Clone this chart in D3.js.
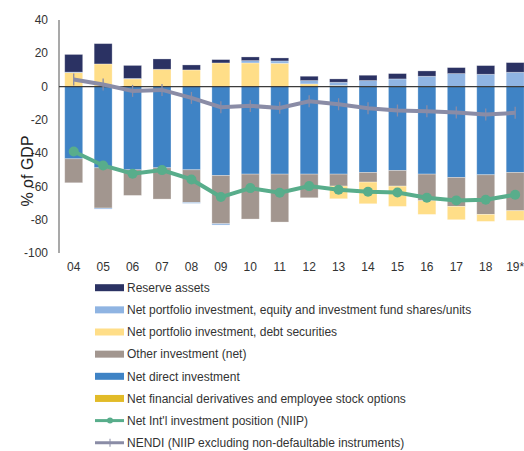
<!DOCTYPE html>
<html>
<head>
<meta charset="utf-8">
<script src="https://cdn.jsdelivr.net/npm/d3@7"></script>
<style>
  body { margin: 0; background: #fff; }
  svg { font-family: "Liberation Sans", Arial, sans-serif; }
</style>
</head>
<body>
<svg width="524" height="451"></svg>
<script>
var years = ["04","05","06","07","08","09","10","11","12","13","14","15","16","17","18","19*"];

var reserve  = [10.6, 12.2, 7.8, 6.2, 3, 2, 2.2, 1.8, 2.6, 2, 3.2, 3.2, 3.2, 3.6, 5.2, 5.8];
var equity   = [0.3, -0.6, 0.3, 0, -0.6, -0.8, 1.4, 1.4, 2, 2, 3.6, 4.6, 6.2, 7.8, 7.4, 8.6];
var debt     = [8.4, 13.6, 4.6, 10.4, 10, 14.2, 14.2, 14, 1.6, -7.6, -13, -12.2, -8.2, -8, -4.2, -5.8];
var other    = [-14.4, -24.2, -15.4, -18.8, -19.6, -29, -27, -28.8, -14.2, -7.2, -5.8, -9.4, -16, -17.4, -23.8, -23];
var direct   = [-43.4, -48.8, -50, -48.8, -50, -53.4, -52.6, -52.6, -52.6, -52.6, -51.6, -50.4, -52.6, -54.6, -53, -51.6];
var deriv    = [0, 0, 0, 0, 0, 0, 0, 0, 0, 0.6, 0, 0, 0, 0, 0, 0];
var niip     = [-39, -47.4, -52.4, -50.2, -55.8, -66.4, -61, -63.8, -59.8, -62, -63.2, -63.6, -66.8, -68.4, -68, -65];
var nendi    = [4.2, 1.2, -2.6, -2, -6.8, -12.4, -11.6, -12.8, -8.8, -10.6, -13, -14.4, -14.8, -15.6, -16.8, -15.8];
var yTicks   = [40, 20, 0, -20, -40, -60, -80, -100];

var colors = {
  direct: "#3f83c5",
  other: "#a2968f",
  deriv: "#e2bb28",
  debt: "#ffde88",
  equity: "#8fb4e2",
  reserve: "#2b3263"
};

var legendItems = [
  {key: "reserve", label: "Reserve assets"},
  {key: "equity", label: "Net portfolio investment, equity and investment fund shares/units"},
  {key: "debt", label: "Net portfolio investment, debt securities"},
  {key: "other", label: "Other investment (net)"},
  {key: "direct", label: "Net direct investment"},
  {key: "deriv", label: "Net financial derivatives and employee stock options"},
  {key: "niip", label: "Net Int'l investment position (NIIP)"},
  {key: "nendi", label: "NENDI (NIIP excluding non-defaultable instruments)"}
];

var svg = d3.select("svg");

var rows = years.map(function(y, i) {
  return {year: y, direct: direct[i], other: other[i], deriv: deriv[i],
          debt: debt[i], equity: equity[i], reserve: reserve[i]};
});

var keys = ["direct", "other", "deriv", "debt", "equity", "reserve"];
var series = d3.stack().keys(keys).offset(d3.stackOffsetDiverging)(rows);

var step = 29.43;
var x = d3.scaleBand()
  .domain(years)
  .range([59, 59 + step * years.length])
  .paddingInner(0.39)
  .paddingOuter(0.195);

var y = d3.scaleLinear().domain([-100, 40]).range([253, 20]);

// y axis line
svg.append("line")
  .attr("x1", 59).attr("x2", 59)
  .attr("y1", y(40)).attr("y2", y(-100))
  .attr("stroke", "#8c8c8c").attr("stroke-width", 1.5);

svg.append("g").selectAll("text")
  .data(yTicks)
  .enter().append("text")
  .attr("x", 48)
  .attr("y", function(d) { return y(d); })
  .attr("dy", "0.35em")
  .attr("text-anchor", "end")
  .attr("font-size", 12)
  .attr("fill", "#333")
  .text(function(d) { return d; });

svg.append("text")
  .attr("transform", "translate(27," + 171 + ") rotate(-90)")
  .attr("text-anchor", "middle")
  .attr("dy", "0.35em")
  .attr("font-size", 16)
  .attr("fill", "#222")
  .text("% of GDP");

// bars
svg.append("g").selectAll("g")
  .data(series)
  .enter().append("g")
  .attr("fill", function(s) { return colors[s.key]; })
  .selectAll("rect")
  .data(function(s) { return s; })
  .enter().append("rect")
  .attr("x", function(d) { return x(d.data.year); })
  .attr("width", x.bandwidth())
  .attr("y", function(d) { return y(Math.max(d[0], d[1])); })
  .attr("height", function(d) { return Math.abs(y(d[0]) - y(d[1])); })
  .attr("stroke", "#fff")
  .attr("stroke-opacity", 0.35)
  .attr("stroke-width", 0.8);

// zero line
svg.append("line")
  .attr("x1", 59).attr("x2", 524)
  .attr("y1", y(0)).attr("y2", y(0))
  .attr("stroke", "#3c3c3c").attr("stroke-width", 1.3);

var cx = function(d, i) { return x(years[i]) + x.bandwidth() / 2; };

// NENDI line
var nendiLine = d3.line().x(cx).y(function(d) { return y(d); });
svg.append("path")
  .datum(nendi)
  .attr("d", nendiLine)
  .attr("fill", "none")
  .attr("stroke", "#8a8ca6")
  .attr("stroke-width", 4);
svg.append("g").selectAll("line")
  .data(nendi)
  .enter().append("line")
  .attr("x1", cx).attr("x2", cx)
  .attr("y1", function(d) { return y(d) - 6; })
  .attr("y2", function(d) { return y(d) + 6; })
  .attr("stroke", "#8a8ca6")
  .attr("stroke-width", 1.3);

// NIIP line
svg.append("path")
  .datum(niip)
  .attr("d", d3.line().x(cx).y(function(d) { return y(d); }))
  .attr("fill", "none")
  .attr("stroke", "#58ad8b")
  .attr("stroke-width", 4);
svg.append("g").selectAll("circle")
  .data(niip)
  .enter().append("circle")
  .attr("cx", cx)
  .attr("cy", function(d) { return y(d); })
  .attr("r", 5)
  .attr("fill", "#58ad8b");

// x labels
svg.append("g").selectAll("text")
  .data(years)
  .enter().append("text")
  .attr("x", function(d) { return x(d) + x.bandwidth() / 2; })
  .attr("y", 267)
  .attr("dy", "0.35em")
  .attr("text-anchor", "middle")
  .attr("font-size", 12)
  .attr("fill", "#333")
  .text(function(d) { return d; });

// legend
var legend = svg.append("g").selectAll("g")
  .data(legendItems)
  .enter().append("g")
  .attr("transform", function(d, i) { return "translate(95," + (287.7 + i * 22.15) + ")"; });

legend.each(function(d) {
  var g = d3.select(this);
  if (d.key == "niip") {
    g.append("line").attr("x1", 0).attr("x2", 29).attr("y1", 0).attr("y2", 0)
      .attr("stroke", "#58ad8b").attr("stroke-width", 3);
    g.append("circle").attr("cx", 15).attr("cy", 0).attr("r", 3).attr("fill", "#58ad8b");
  } else if (d.key == "nendi") {
    g.append("line").attr("x1", 0).attr("x2", 29).attr("y1", 0).attr("y2", 0)
      .attr("stroke", "#8a8ca6").attr("stroke-width", 3);
    g.append("line").attr("x1", 15).attr("x2", 15).attr("y1", -4).attr("y2", 4)
      .attr("stroke", "#8a8ca6").attr("stroke-width", 1);
  } else {
    g.append("rect").attr("x", 0).attr("y", -3.5).attr("width", 29).attr("height", 7)
      .attr("fill", colors[d.key]);
  }
  g.append("text")
    .attr("x", 32)
    .attr("y", 0)
    .attr("dy", "0.35em")
    .attr("font-size", 12)
    .attr("fill", "#333")
    .text(d.label);
});
</script>
</body>
</html>
